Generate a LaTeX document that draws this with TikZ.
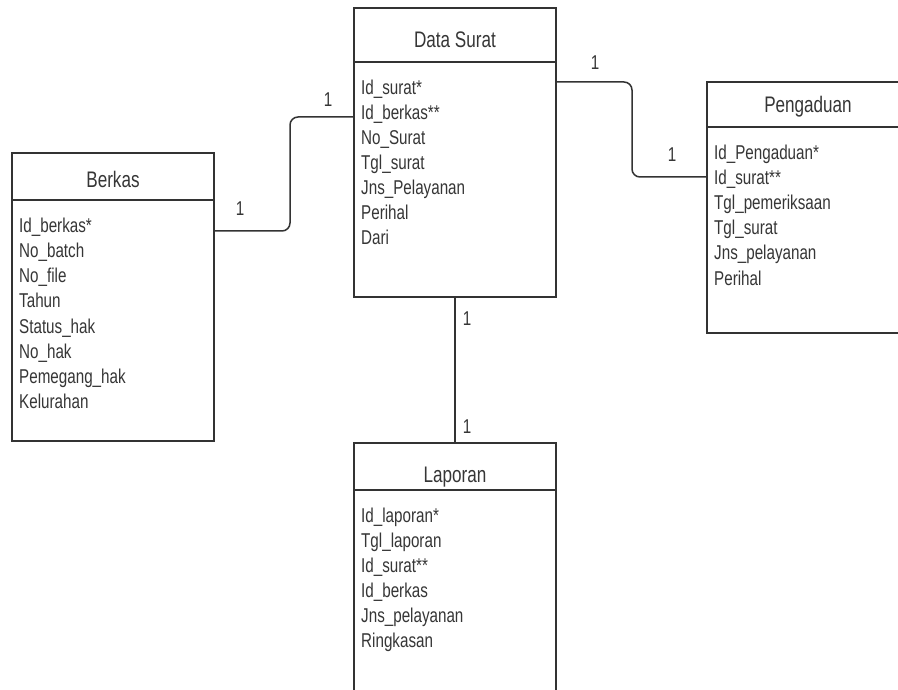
\documentclass[tikz,border=0pt]{standalone}
\usepackage{fontspec}
\setmainfont{Liberation Sans}[FakeStretch=0.76]
\usetikzlibrary{calc}
\definecolor{ink}{HTML}{363636}
\definecolor{edge}{HTML}{333333}
\begin{document}
\begin{tikzpicture}[x=1pt,y=-1pt,
  entity/.style={draw=edge, line width=1.6pt, fill=white, minimum width=202pt,
                 inner sep=0pt, outer sep=0pt},
  divider/.style={draw=edge, line width=1.6pt},
  title/.style={font=\fontsize{22.5}{25}\selectfont, text=ink, anchor=base, inner sep=0pt},
  field/.style={font=\fontsize{20}{25}\selectfont, text=ink, anchor=base west, inner sep=0pt},
  card/.style={font=\fontsize{20}{25}\selectfont, text=ink, anchor=base, inner sep=0pt},
  link/.style={draw=edge, line width=1.5pt, rounded corners=8pt}]

\useasboundingbox (0,0) rectangle (898,690);
\fill[white] (0,0) rectangle (898,690);
\clip (0,0) rectangle (898,690);

% Berkas
\node[entity, minimum height=288pt] (bk) at (113,297) {};
\draw[divider] ([yshift=-47pt]bk.north west) -- ([yshift=-47pt]bk.north east);
\node[title] (bk-t) at (113,188) {Berkas};
\foreach \t [count=\i from 0] in {Id\_berkas*, No\_batch, No\_file, Tahun,
    Status\_hak, No\_hak, Pemegang\_hak, Kelurahan}
  \node[field] (bk-\i) at (19,233+25*\i) {\t};

% Data Surat
\node[entity, minimum height=289pt] (ds) at (455,152.5) {};
\draw[divider] ([yshift=-54pt]ds.north west) -- ([yshift=-54pt]ds.north east);
\node[title] (ds-t) at (455,48) {Data Surat};
\foreach \t [count=\i from 0] in {Id\_surat*, Id\_berkas**, No\_Surat, Tgl\_surat,
    Jns\_Pelayanan, Perihal, Dari}
  \node[field] (ds-\i) at (361,95+25*\i) {\t};

% Pengaduan
\node[entity, minimum height=251pt] (pg) at (808,207.5) {};
\draw[divider] ([yshift=-45pt]pg.north west) -- ([yshift=-45pt]pg.north east);
\node[title] (pg-t) at (808,113) {Pengaduan};
\foreach \t [count=\i from 0] in {Id\_Pengaduan*, Id\_surat**, Tgl\_pemeriksaan,
    Tgl\_surat, Jns\_pelayanan, Perihal}
  \node[field] (pg-\i) at (714,160+25*\i) {\t};

% Laporan
\node[entity, minimum height=290pt] (lp) at (455,588) {};
\draw[divider] ([yshift=-47pt]lp.north west) -- ([yshift=-47pt]lp.north east);
\node[title] (lp-t) at (455,482) {Laporan};
\foreach \t [count=\i from 0] in {Id\_laporan*, Tgl\_laporan, Id\_surat**,
    Id\_berkas, Jns\_pelayanan, Ringkasan}
  \node[field] (lp-\i) at (361,522+25*\i) {\t};

% Relationships
\draw[link] ([yshift=-78pt]bk.north east) -- ++(76,0) |- ([yshift=-109pt]ds.north west);
\draw[link] ([yshift=-74pt]ds.north east) -- ++(76,0) |- ([yshift=-95pt]pg.north west);
\draw[link] (ds.south) -- (lp.north);

% Cardinalities
\node[card] (c1) at (240,215) {1};
\node[card] (c2) at (328,107) {1};
\node[card] (c3) at (595,70) {1};
\node[card] (c4) at (672,162) {1};
\node[card] (c5) at (467,325) {1};
\node[card] (c6) at (467,433) {1};
\end{tikzpicture}
\end{document}
